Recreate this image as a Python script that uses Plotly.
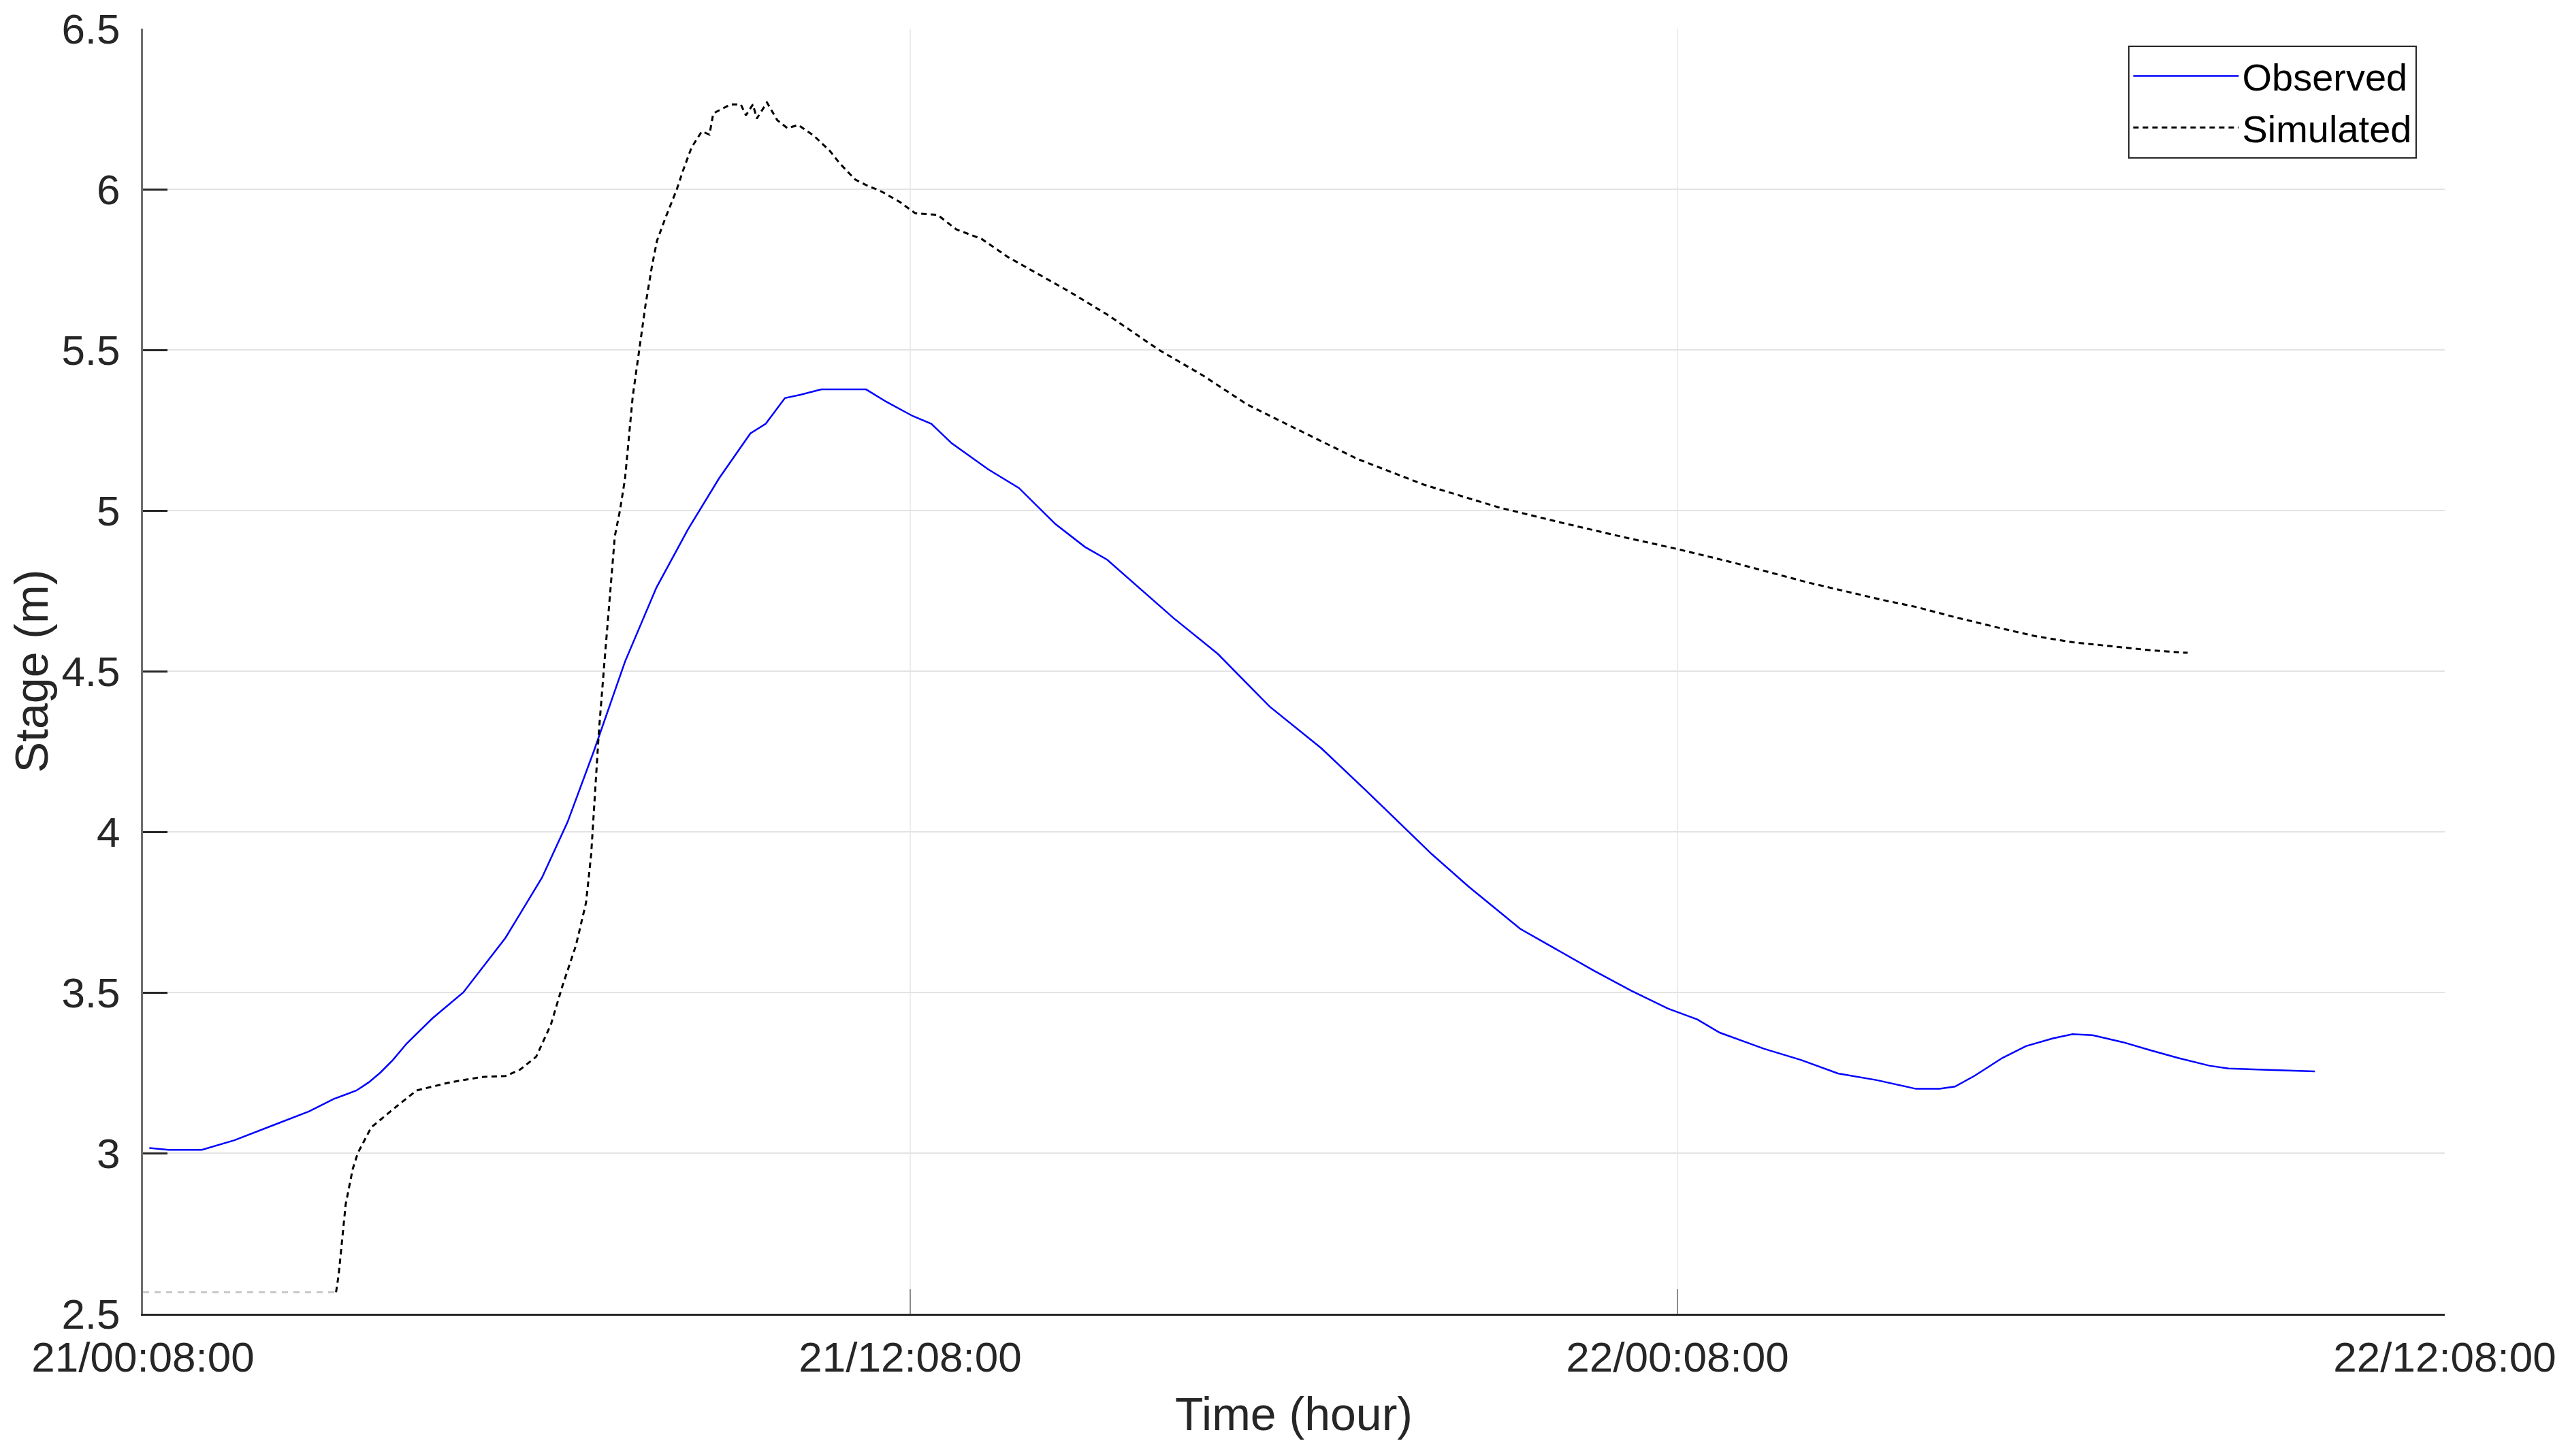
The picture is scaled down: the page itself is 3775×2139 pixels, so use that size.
import pandas as pd
import plotly.graph_objects as go

# hours after 21/00:08:00, stage in metres
obs_h = [0.10, 0.40, 0.92, 1.18, 1.43, 2.08, 2.60, 2.98, 3.34, 3.53, 3.71, 3.91, 4.12,
         4.53, 5.01, 5.67, 6.24, 6.64, 7.05, 7.54, 8.03, 8.52, 9.01, 9.50, 9.74, 10.04,
         10.28, 10.61, 11.31, 11.63, 12.04, 12.33, 12.65, 13.22, 13.70, 14.27, 14.73,
         15.08, 16.12, 16.81, 17.62, 18.43, 19.12, 20.16, 20.73, 21.54, 22.70, 23.27,
         23.85, 24.31, 24.66, 25.35, 25.93, 26.51, 27.12, 27.73, 28.10, 28.34, 28.65,
         29.08, 29.45, 29.87, 30.18, 30.49, 30.97, 31.40, 31.83, 32.32, 32.62, 33.24, 33.97]
obs_v = [3.016, 3.01, 3.01, 3.026, 3.04, 3.09, 3.13, 3.168, 3.195, 3.22, 3.25, 3.29, 3.34,
         3.42, 3.50, 3.67, 3.857, 4.03, 4.25, 4.53, 4.76, 4.94, 5.10, 5.24, 5.27, 5.35,
         5.36, 5.377, 5.377, 5.338, 5.294, 5.27, 5.209, 5.128, 5.07, 4.958, 4.887,
         4.847, 4.665, 4.554, 4.39, 4.26, 4.13, 3.93, 3.83, 3.698, 3.567, 3.506,
         3.45, 3.416, 3.375, 3.325, 3.29, 3.248, 3.227, 3.20, 3.20, 3.207, 3.241,
         3.296, 3.333, 3.357, 3.37, 3.367, 3.345, 3.32, 3.296, 3.272, 3.263, 3.259, 3.254]

sim_h = [3.02, 3.06, 3.10, 3.17, 3.28, 3.36, 3.57, 3.97, 4.28, 4.80, 5.30, 5.67, 5.90,
         6.15, 6.38, 6.56, 6.77, 6.93, 7.01, 7.07, 7.13, 7.21, 7.30, 7.38, 7.46, 7.54,
         7.66, 7.76, 7.86, 7.96, 8.04, 8.17, 8.35, 8.45, 8.58, 8.74, 8.86, 8.92, 9.05,
         9.19, 9.35, 9.43, 9.54, 9.60, 9.76, 9.92, 10.08, 10.25, 10.49, 10.74, 10.90,
         11.14, 11.31, 11.55, 11.84, 12.08, 12.43, 12.72, 13.12, 13.52, 13.93, 14.50,
         15.08, 15.89, 16.58, 17.27, 18.08, 19.00, 20.04, 21.20, 22.23, 23.16, 24.00,
         24.89, 26.04, 27.20, 27.73, 28.34, 28.96, 29.57, 30.18, 30.79, 31.40, 31.98]
sim_v = [2.567, 2.62, 2.70, 2.84, 2.95, 3.00, 3.08, 3.146, 3.195, 3.22, 3.237, 3.24, 3.26,
         3.30, 3.40, 3.52, 3.645, 3.78, 3.93, 4.11, 4.31, 4.51, 4.72, 4.92, 5.00, 5.10,
         5.355, 5.50, 5.64, 5.76, 5.84, 5.91, 6.00, 6.06, 6.13, 6.18, 6.17, 6.236, 6.25,
         6.264, 6.264, 6.23, 6.264, 6.22, 6.27, 6.215, 6.19, 6.20, 6.167, 6.12, 6.08,
         6.03, 6.013, 5.993, 5.96, 5.925, 5.92, 5.875, 5.845, 5.79, 5.744, 5.68,
         5.61, 5.50, 5.42, 5.33, 5.25, 5.16, 5.08, 5.01, 4.96, 4.917, 4.88,
         4.837, 4.776, 4.722, 4.70, 4.668, 4.638, 4.61, 4.59, 4.577, 4.565, 4.557]

# flat initial part of the simulation, drawn light grey
init_h = [0.0, 3.02]
init_v = [2.567, 2.567]

base = pd.Timestamp("2019-08-21 00:08:00")


def to_time(hours):
    return base + pd.to_timedelta(hours, unit="h")


FONT = "Liberation Sans, Arial, Helvetica, sans-serif"
INK = "#262626"

fig = go.Figure()
fig.add_trace(go.Scatter(x=to_time(init_h), y=init_v, mode="lines", showlegend=False,
                         line=dict(color="#c8c8c8", width=3, dash="9px,8px"),
                         hoverinfo="skip"))
fig.add_trace(go.Scatter(x=to_time(obs_h), y=obs_v, mode="lines", name="Observed",
                         line=dict(color="#0000ff", width=2.5)))
fig.add_trace(go.Scatter(x=to_time(sim_h), y=sim_v, mode="lines", name="Simulated",
                         line=dict(color="#000000", width=3, dash="8px,6px")))

# the page body adds an 8px offset, so margins are shifted to compensate
fig.update_layout(
    width=3775, height=2139,
    margin=dict(l=202, r=192, t=34, b=217),
    paper_bgcolor="white", plot_bgcolor="white",
    font=dict(family=FONT, size=62, color=INK),
    legend=dict(x=0.988, y=0.987, xanchor="right", yanchor="top",
                bordercolor=INK, borderwidth=2, bgcolor="white",
                font=dict(size=56, color="#000000"), itemwidth=155,
                tracegroupgap=0),
)
fig.update_xaxes(
    type="date", automargin=False,
    range=[base, to_time(36.0)],
    tick0=base, dtick=12 * 3600 * 1000,
    tickformat="%d/%H:%M:%S",
    showline=True, linecolor=INK, linewidth=3, mirror=False,
    ticks="inside", ticklen=36, tickwidth=2, tickcolor="#8c8c8c",
    showgrid=True, gridcolor="#ececec", gridwidth=2,
    zeroline=False, ticklabelstandoff=8, ticklabeloverflow="allow",
    title=dict(text="Time (hour)", font=dict(size=68, color=INK), standoff=26),
)
fig.update_yaxes(
    automargin=False,
    range=[2.5, 6.5], dtick=0.5, tick0=2.5,
    showline=True, linecolor="#6e6e6e", linewidth=3, mirror=False,
    ticks="inside", ticklen=36, tickwidth=3, tickcolor=INK,
    showgrid=True, gridcolor="#e3e3e3", gridwidth=2,
    zeroline=False, ticklabelstandoff=18, ticklabeloverflow="allow",
    title=dict(text="Stage (m)", font=dict(size=68, color=INK), standoff=14),
)

fig.write_html("out.html")
